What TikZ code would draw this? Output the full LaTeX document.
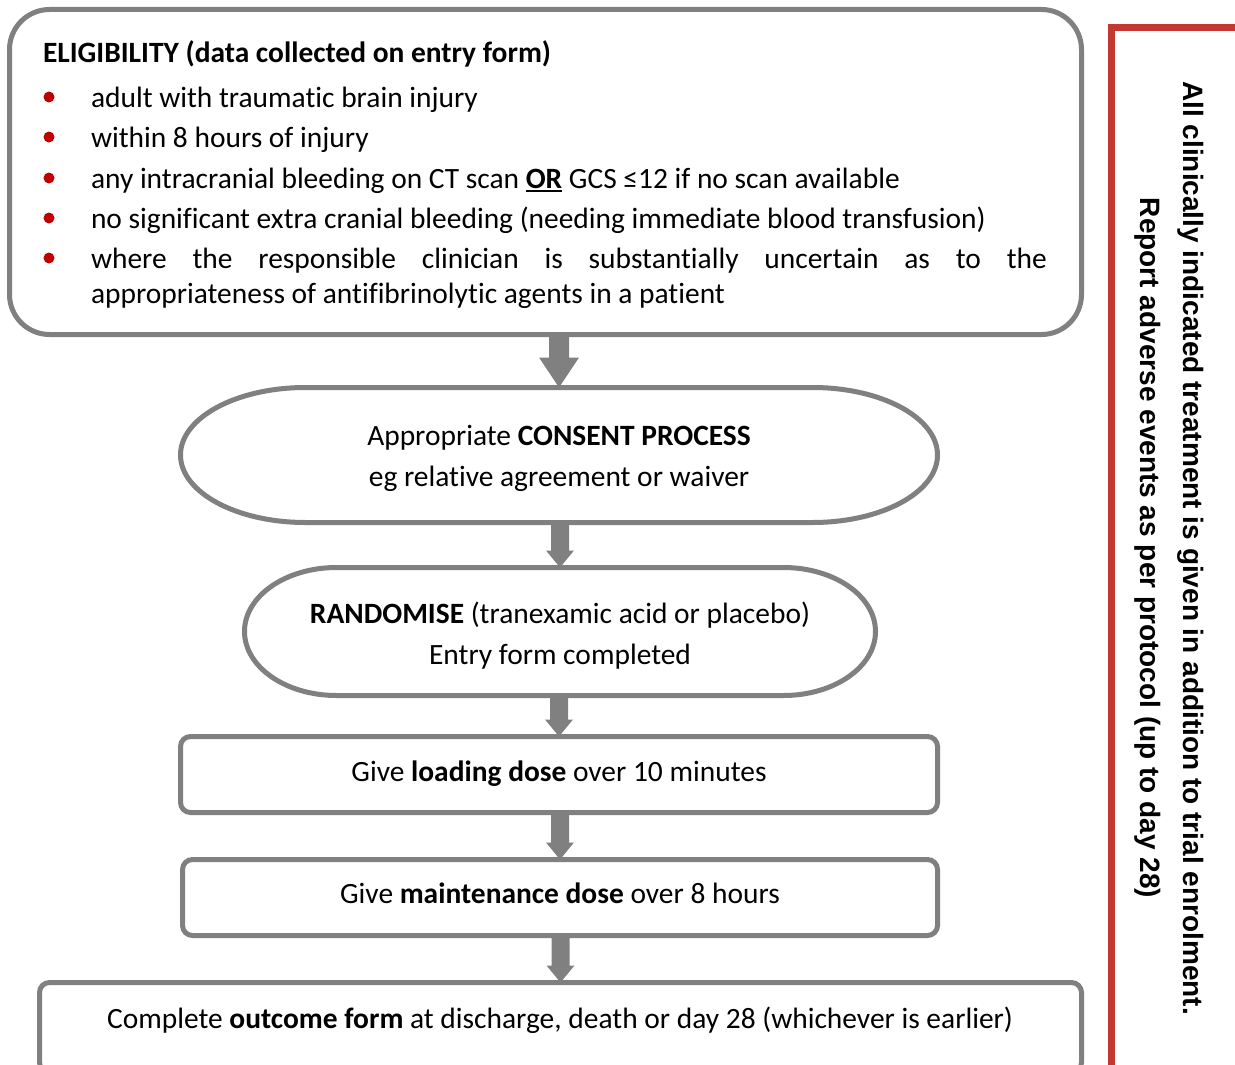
\documentclass[tikz,border=0pt]{standalone}
\usepackage{fontspec}
\setmainfont{Carlito}[Ligatures=NoCommon]
\newfontfamily\sidefont{Liberation Sans}
\usetikzlibrary{calc}
\definecolor{boxgray}{RGB}{128,128,128}
\definecolor{bulletred}{RGB}{192,0,0}
\definecolor{sidered}{RGB}{196,56,50}
\newcommand{\twoln}[4]{\vtop{\baselineskip=#2\relax\hbox to #1{\hfil #3\hfil}\hbox to #1{\hfil #4\hfil}}}
\newcommand{\ulbold}[1]{\setbox0\hbox{\textbf{#1}}\rlap{\rule[-3.5pt]{\wd0}{2.4pt}}\box0\relax}
% block arrow: from, to, shaft half width, head half width, head length
\newcommand{\blockarr}[5]{%
  \fill[boxgray] ($(#2.north |- #1.south)+(-#3,0)$) -- ($(#2.north)+(-#3,-#5)$)
    -- ($(#2.north)+(-#4,-#5)$) -- (#2.north) -- ($(#2.north)+(#4,-#5)$)
    -- ($(#2.north)+(#3,-#5)$) -- ($(#2.north |- #1.south)+(#3,0)$) -- cycle;}
\begin{document}
\begin{tikzpicture}[x=1pt,y=-1pt,
  font=\fontsize{29.45}{35}\selectfont,
  outline/.style={draw=boxgray, line width=5pt},
  shapebox/.style={draw=none, inner sep=0pt, outer sep=0pt},
  rbox/.style={outline, rounded corners=10pt, inner sep=0pt, outer sep=0pt},
  txt/.style={inner sep=0pt, outer sep=0pt, anchor=base},
  itm/.style={inner sep=0pt, outer sep=0pt, anchor=base west},
  dot/.style={circle, fill=bulletred, inner sep=0pt, minimum size=11pt}]
\useasboundingbox (0,0) rectangle (1235,1065);
\clip (0,0) rectangle (1235,1065);
\fill[white] (0,0) rectangle (1235,1065);

% eligibility box
\node[outline, rounded corners=40pt, inner sep=0pt, outer sep=0pt,
      minimum width=1072pt, minimum height=325pt] (elig) at (545.5,172) {};
\node[itm] (head) at (43,62.5) {\textbf{ELIGIBILITY (data collected on entry form)}};
\node[dot] (b1) at (49,97) {};
\node[itm] (i1) at (91,107.5) {adult with traumatic brain injury};
\node[dot] (b2) at (49,137) {};
\node[itm] (i2) at (91,147.5) {within 8 hours of injury};
\node[dot] (b3) at (49,178) {};
\node[itm] (i3) at (91,188.5) {any intracranial bleeding on CT scan \ulbold{OR} GCS ≤12 if no scan available};
\node[dot] (b4) at (49,218) {};
\node[itm] (i4) at (91,228.5) {no significant extra cranial bleeding (needing immediate blood transfusion)};
\node[dot] (b5) at (49,258) {};
\node[itm] (i5) at (91,268.5) {\vtop{\baselineskip=35pt\relax
  \hbox to 956pt{where\hfill the\hfill responsible\hfill clinician\hfill is\hfill substantially\hfill uncertain\hfill as\hfill to\hfill the}
  \hbox{appropriateness of antifibrinolytic agents in a patient}}};

% consent (stadium)
\node[shapebox, minimum width=757pt, minimum height=135pt] (consent) at (559,455) {};
\draw[outline] ($(consent.north west)+(125,0)$) -- ($(consent.north east)+(-125,0)$)
  arc[start angle=-90, end angle=90, x radius=125, y radius=67.5]
  -- ($(consent.south west)+(125,0)$)
  arc[start angle=90, end angle=270, x radius=125, y radius=67.5] -- cycle;
\node[txt] (consenttxt) at (559,445) {\twoln{720pt}{41pt}{Appropriate \textbf{CONSENT PROCESS}}{eg relative agreement or waiver}};

% randomise (stadium)
\node[shapebox, minimum width=631pt, minimum height=128pt] (random) at (560,631.5) {};
\draw[outline] ($(random.north west)+(92,0)$) -- ($(random.north east)+(-92,0)$)
  arc[start angle=-90, end angle=90, x radius=92, y radius=64]
  -- ($(random.south west)+(92,0)$)
  arc[start angle=90, end angle=270, x radius=92, y radius=64] -- cycle;
\node[txt] (randomtxt) at (560,623.5) {\twoln{600pt}{41pt}{\textbf{RANDOMISE} (tranexamic acid or placebo)}{Entry form completed}};

% dose boxes
\node[rbox, minimum width=757pt, minimum height=76pt] (loading) at (559,774.5) {};
\node[txt] (loadingtxt) at (559,781) {Give \textbf{loading dose} over 10 minutes};
\node[rbox, minimum width=755pt, minimum height=76pt] (maint) at (560,897.5) {};
\node[txt] (mainttxt) at (560,903) {Give \textbf{maintenance dose} over 8 hours};

% outcome box
\node[rbox, minimum width=1042pt, minimum height=90pt] (outcome) at (560.5,1027.5) {};
\node[txt] (outcometxt) at (560,1028) {Complete \textbf{outcome form} at discharge, death or day 28 (whichever is earlier)};

% connectors
\blockarr{elig}{consent}{10}{20}{30}
\blockarr{consent}{random}{9}{14}{17}
\blockarr{random}{loading}{9}{14}{17}
\blockarr{loading}{maint}{9}{14}{17}
\blockarr{maint}{outcome}{9}{14}{17}

% side bracket and text
\coordinate (brtop) at (1240,27.5);
\coordinate (brcorner) at (1111.5,27.5);
\coordinate (brbot) at (1111.5,1075);
\draw[sidered, line width=7.5pt] (brtop) -- (brcorner) -- (brbot);
\node[txt, rotate=-90, font=\sidefont\bfseries\fontsize{28}{43}\selectfont] (side) at (1183,548)
  {\twoln{1000pt}{43pt}{All clinically indicated treatment is given in addition to trial enrolment.}{Report adverse events as per protocol (up to day 28)}};
\end{tikzpicture}
\end{document}
